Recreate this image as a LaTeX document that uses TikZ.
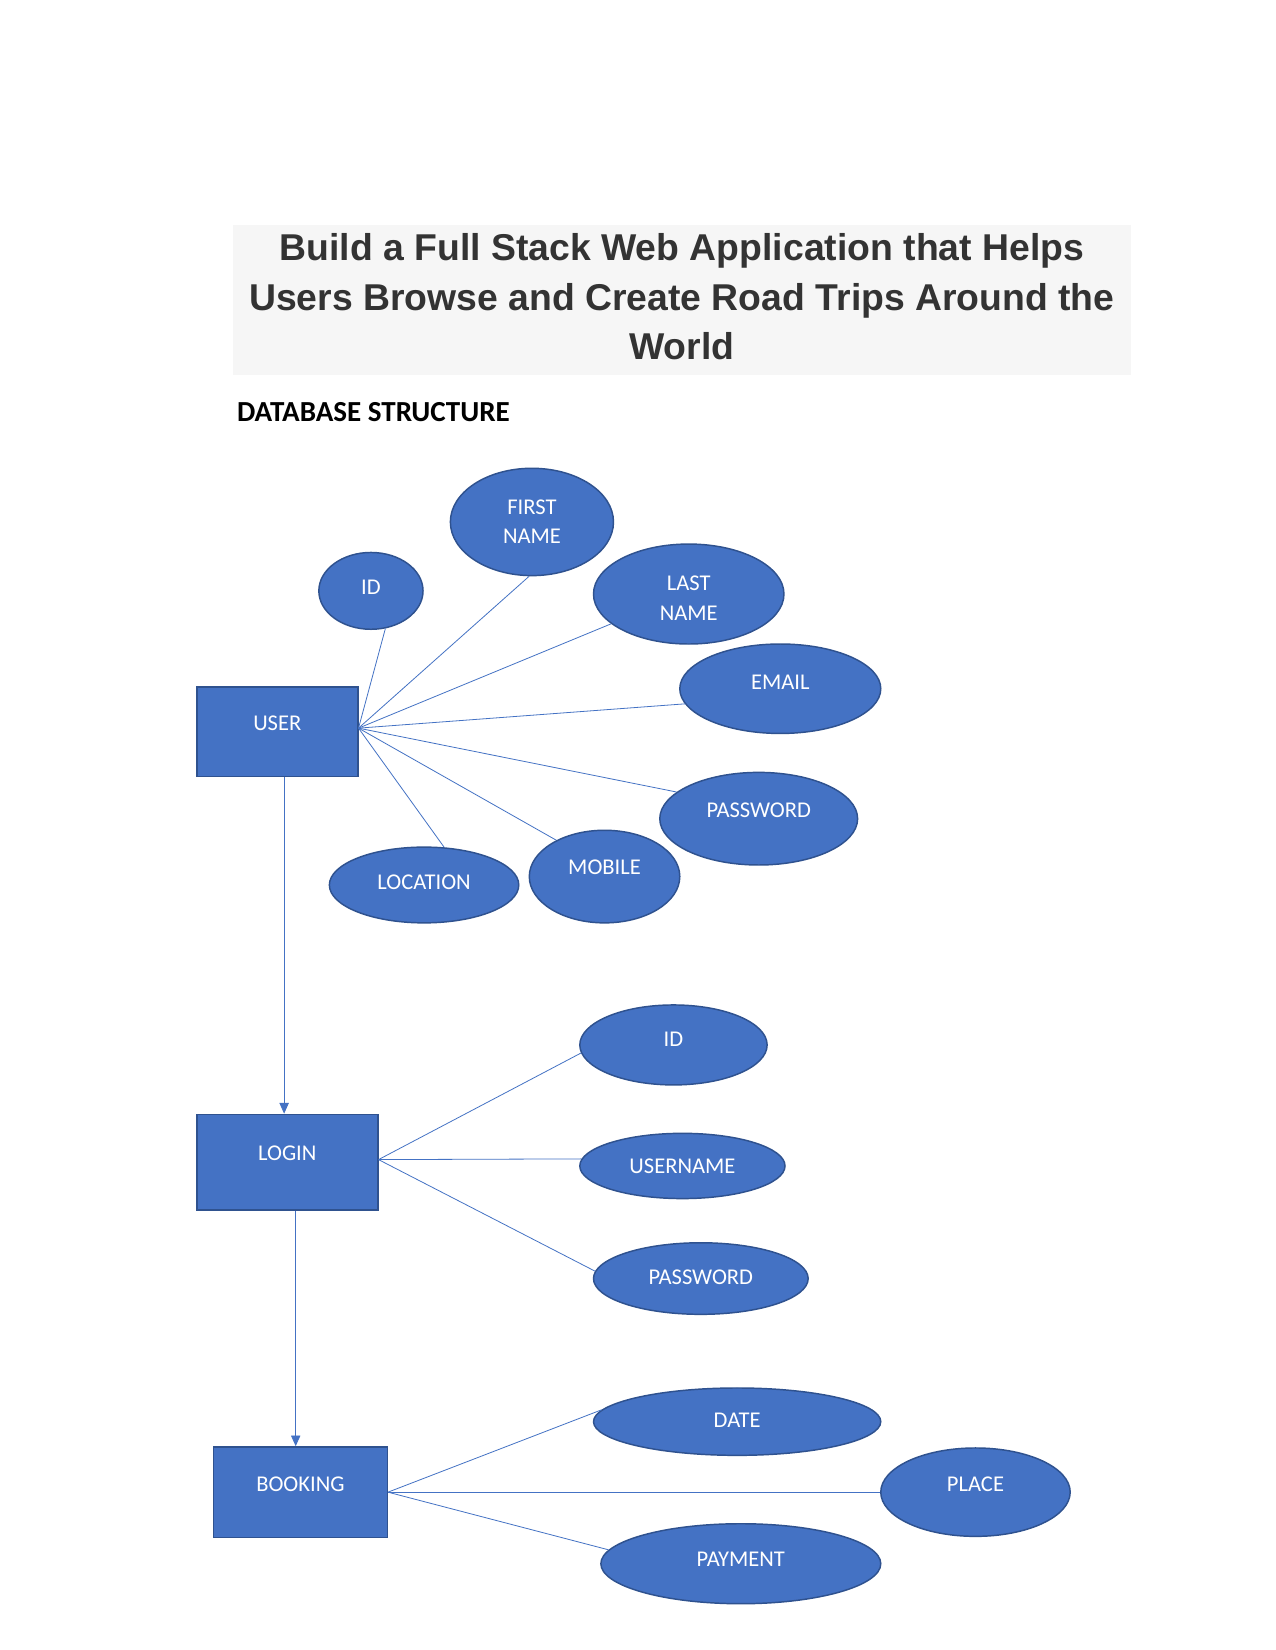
\documentclass[tikz,border=0pt]{standalone}
\usepackage{fontspec}
\setmainfont{Carlito}
\newfontfamily\titlefont{Liberation Sans}
\usetikzlibrary{shapes.geometric,arrows.meta,calc}
\definecolor{shapefill}{HTML}{4472C4}
\definecolor{shapeedge}{HTML}{2F528F}
\definecolor{titlegray}{HTML}{333333}
\definecolor{titlebg}{HTML}{F6F6F6}
\begin{document}
\begin{tikzpicture}[x=0.789pt,y=-0.789pt,
  sz/.style 2 args={minimum width=#1*0.789pt, minimum height=#2*0.789pt},
  entity/.style={draw=shapeedge, fill=shapefill, line width=1.1pt, rectangle, inner sep=0pt},
  attr/.style={draw=shapeedge, fill=shapefill, line width=1.1pt, ellipse, inner sep=0pt},
  lbl/.style={text=white, font=\fontsize{16.9}{22}\selectfont, align=center, inner sep=0pt},
  titletext/.style={text=titlegray, align=center, inner sep=0pt,
    font=\titlefont\bfseries\fontsize{28}{37}\selectfont},
  link/.style={draw=shapefill, line width=0.6pt},
  arr/.style={link, -{Triangle[length=8pt,width=7pt]}}]
\useasboundingbox (0,0) rectangle (1212,1568);
\fill[white] (0,0) rectangle (1212,1568);

% title
\node[fill=titlebg, sz={854}{142}, inner sep=0pt,
  label={[titletext,yshift=2.2pt]center:Build a Full Stack Web Application that Helps\\Users Browse and Create Road Trips Around the\\World}] (title) at (648,285) {};
\node[anchor=west, inner sep=0pt, font=\bfseries\fontsize{21.8}{26}\selectfont] (dbs) at (225,392) {DATABASE STRUCTURE};

% entities
\node[entity, sz={153}{85}, label={[lbl,yshift=6.7pt]center:USER}] (user) at (263.5,695.5) {};
\node[entity, sz={172}{91}, label={[lbl,yshift=6.7pt]center:LOGIN}] (login) at (273,1104.5) {};
\node[entity, sz={165}{86}, label={[lbl,yshift=6.3pt]center:BOOKING}] (booking) at (285.5,1418) {};

% user attributes
\node[attr, sz={99}{73}, label={[lbl,yshift=2.8pt]center:ID}] (uid) at (352.5,561.5) {};
\node[attr, sz={155}{102}, label={[lbl]center:FIRST\\NAME}] (fname) at (505.5,496) {};
\node[attr, sz={181}{95}, label={[lbl,yshift=-3.2pt]center:LAST\\NAME}] (lname) at (654.5,564.5) {};
\node[attr, sz={191}{85}, label={[lbl,yshift=5.1pt]center:EMAIL}] (email) at (741.5,654.5) {};
\node[attr, sz={188}{88}, label={[lbl,yshift=6.3pt]center:PASSWORD}] (upass) at (721,778) {};
\node[attr, sz={143}{88}, label={[lbl,yshift=7.1pt]center:MOBILE}] (mobile) at (574.5,833) {};
\node[attr, sz={180}{72}, label={[lbl,yshift=2.4pt]center:LOCATION}] (loc) at (403,841) {};

% login attributes
\node[attr, sz={178}{76}, label={[lbl,yshift=3.9pt]center:ID}] (lid) at (640,993) {};
\node[attr, sz={195}{62}, label={[lbl]center:USERNAME}] (uname) at (648.5,1108) {};
\node[attr, sz={204}{68}, label={[lbl,yshift=0.8pt]center:PASSWORD}] (lpass) at (666,1215) {};

% booking attributes
\node[attr, sz={273}{64}, label={[lbl,yshift=0.8pt]center:DATE}] (date) at (700.5,1351) {};
\node[attr, sz={180}{84}, label={[lbl,yshift=6.3pt]center:PLACE}] (place) at (927,1418) {};
\node[attr, sz={266}{76}, label={[lbl,yshift=3.2pt]center:PAYMENT}] (pay) at (704,1486) {};

% connectors
\coordinate (uhub) at ([yshift=2.8pt]user.east);
\coordinate (lhub) at ([yshift=2pt]login.east);
\draw[link] (uhub) -- (uid.-69.7);
\draw[link] (uhub) -- (fname.-93.9);
\draw[link] (uhub) -- (lname.201.9);
\draw[link] (uhub) -- (email.189.8);
\draw[link] (uhub) -- (upass.162.8);
\draw[link] (uhub) -- (mobile.143);
\draw[link] (uhub) -- (loc.62.2);

\draw[link] (lhub) -- (lid.185);
\draw[link] (lhub) -- (uname.176.5);
\draw[link] (lhub) -- (lpass.176);

\draw[link] (booking.east) -- (date.175.7);
\draw[link] (booking.east) -- (place.west);
\draw[link] (booking.east) -- (pay.174.2);

\coordinate (ax) at (270,0);
\coordinate (bx) at (281,0);
\draw[arr] (user.south -| ax) -- (login.north -| ax);
\draw[arr] (login.south -| bx) -- (booking.north -| bx);
\end{tikzpicture}
\end{document}
